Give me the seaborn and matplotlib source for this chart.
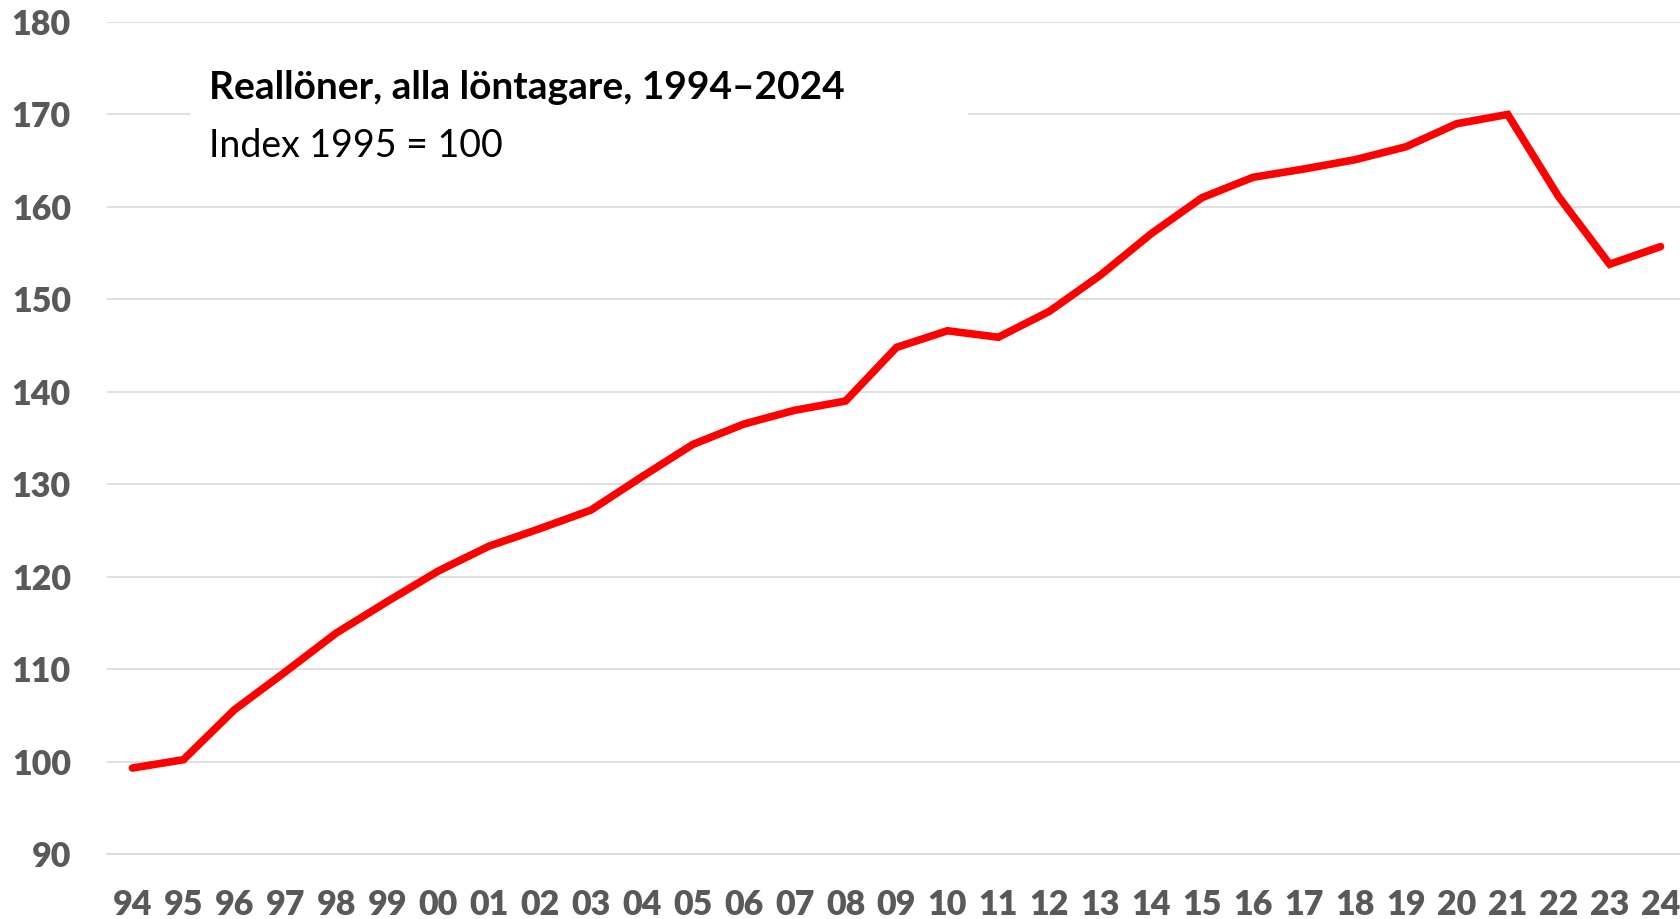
import numpy as np
import pandas as pd
import matplotlib
matplotlib.use("Agg")
import matplotlib.pyplot as plt
from matplotlib.patches import Rectangle
import seaborn as sns

# data
years = ["94", "95", "96", "97", "98", "99", "00", "01", "02", "03", "04",
         "05", "06", "07", "08", "09", "10", "11", "12", "13", "14", "15",
         "16", "17", "18", "19", "20", "21", "22", "23", "24"]
real_wages = [99.3, 100.2, 105.6, 109.7, 113.9, 117.3, 120.6, 123.3, 125.2,
              127.2, 130.8, 134.3, 136.5, 138.0, 139.0, 144.8, 146.6, 145.9,
              148.7, 152.6, 157.1, 161.0, 163.2, 164.1, 165.1, 166.5, 169.0,
              170.0, 161.1, 153.8, 155.7]
y_ticks = [90, 100, 110, 120, 130, 140, 150, 160, 170, 180]

title = "Reallöner, alla löntagare, 1994–2024"
subtitle = "Index 1995 = 100"

df = pd.DataFrame({"pos": np.arange(len(years)), "value": real_wages})

sns.set_style("white")
plt.rcParams["font.family"] = ["Lato", "DejaVu Sans"]

W, H = 1680, 919
fig = plt.figure(figsize=(W / 100, H / 100), dpi=100)
ax = fig.add_axes([107 / W, 1 - 854 / H, 1579 / W, 832 / H])

grid_col = "#d9d9d9"
label_col = "#595959"

sns.lineplot(data=df, x="pos", y="value", ax=ax, color="#ff0000",
             linewidth=5.5, sort=False, zorder=5,
             solid_capstyle="round", solid_joinstyle="miter")

ax.set_xlim(-0.5, len(years) - 0.5)
ax.set_ylim(90, 180)
ax.set_yticks(y_ticks)
ax.set_yticklabels([str(t) for t in y_ticks], fontsize=24.5, fontweight="heavy",
                   color=label_col)
ax.set_xticks(np.arange(len(years)))
ax.set_xticklabels(years, fontsize=24.5, fontweight="heavy", color=label_col)
ax.set_xticks(np.arange(len(years) + 1) - 0.5, minor=True)
ax.tick_params(axis="x", which="major", length=0, pad=25)
ax.tick_params(axis="x", which="minor", length=8.5, width=1.3, color=grid_col)
ax.tick_params(axis="y", length=0, pad=26)
ax.set_xlabel("")
ax.set_ylabel("")

ax.grid(axis="y", color=grid_col, linewidth=1.2)
ax.set_axisbelow(True)
for s in ["top", "right", "left"]:
    ax.spines[s].set_visible(False)
ax.spines["bottom"].set_color(grid_col)
ax.spines["bottom"].set_linewidth(1.2)

# white title box hiding the gridline behind the heading
x0 = (190 - 107) / 50.93 - 0.5
x1 = (968 - 107) / 50.93 - 0.5
ax.add_patch(Rectangle((x0, 163), x1 - x0, 14, facecolor="white",
                       edgecolor="none", zorder=2))

fig.text(209 / W, 1 - 99 / H, title, fontsize=28, fontweight="bold",
         color="black", va="baseline", ha="left")
fig.text(209 / W, 1 - 157 / H, subtitle, fontsize=27, color="black",
         va="baseline", ha="left")

fig.savefig("out.png", dpi=100)
